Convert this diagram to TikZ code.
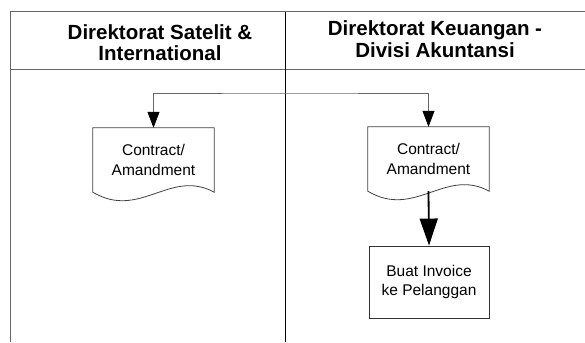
\documentclass[tikz,border=0pt]{standalone}
\usepackage{fontspec}
\setmainfont{Liberation Sans}
\usetikzlibrary{arrows.meta,calc}
\begin{document}
\begin{tikzpicture}[x=1pt,y=-1pt,
  frameline/.style={draw=black!60, line width=1pt},
  divider/.style={draw=black, line width=0.9pt},
  head/.style={font=\bfseries\fontsize{20.5}{21.5}\selectfont, align=center, inner sep=0pt},
  docnode/.style={minimum width=121pt, minimum height=64pt, inner sep=0pt, align=center, font=\fontsize{15.5}{19.5}\selectfont},
  docline/.style={draw=black!75, line width=0.8pt},
  procbox/.style={draw=black!80, line width=0.9pt, minimum width=120pt, minimum height=72pt, inner sep=0pt, align=center, font=\fontsize{15.5}{19.5}\selectfont},
  link/.style={draw=black!60, line width=0.8pt, {Triangle[width=12pt,length=16pt,color=black]}-{Triangle[width=12pt,length=16pt,color=black]}},
  flow/.style={draw=black, line width=1.8pt, -{Triangle[width=18pt,length=27pt]}},
]
\useasboundingbox (0,0) rectangle (585,342);
% frame
\draw[frameline] (10,12) -- (585,12);
\draw[frameline] (10,70) -- (585,70);
\draw[frameline] (10,12) -- (10,342);
\draw[divider] (285,12) -- (285,342);
% headers
\node[head] (h1) at (160,42.5) {Direktorat Satelit \&\\International};
\node[head] (h2) at (435,39) {Direktorat Keuangan -\\Divisi Akuntansi};
% documents
\node[docnode] (ld) at (153.5,160) {Contract/\\Amandment};
\node[docnode] (rd) at (428.5,159) {Contract/\\Amandment};
\foreach \n in {ld,rd}{
  \draw[docline] (\n.north west) -- (\n.north east) -- (\n.south east)
    .. controls ($(\n.south east)+(-44,-24)$) and ($(\n.south west)+(47,28)$) .. (\n.south west) -- cycle;
}
% process box
\node[procbox] (bx) at (429,282) {Buat Invoice\\ke Pelanggan};
% connectors
\coordinate (bus) at (290,93);
\draw[link] (ld.north) |- (bus) -| (rd.north);
\draw[flow] (rd.south) -- (bx.north);
\end{tikzpicture}
\end{document}
